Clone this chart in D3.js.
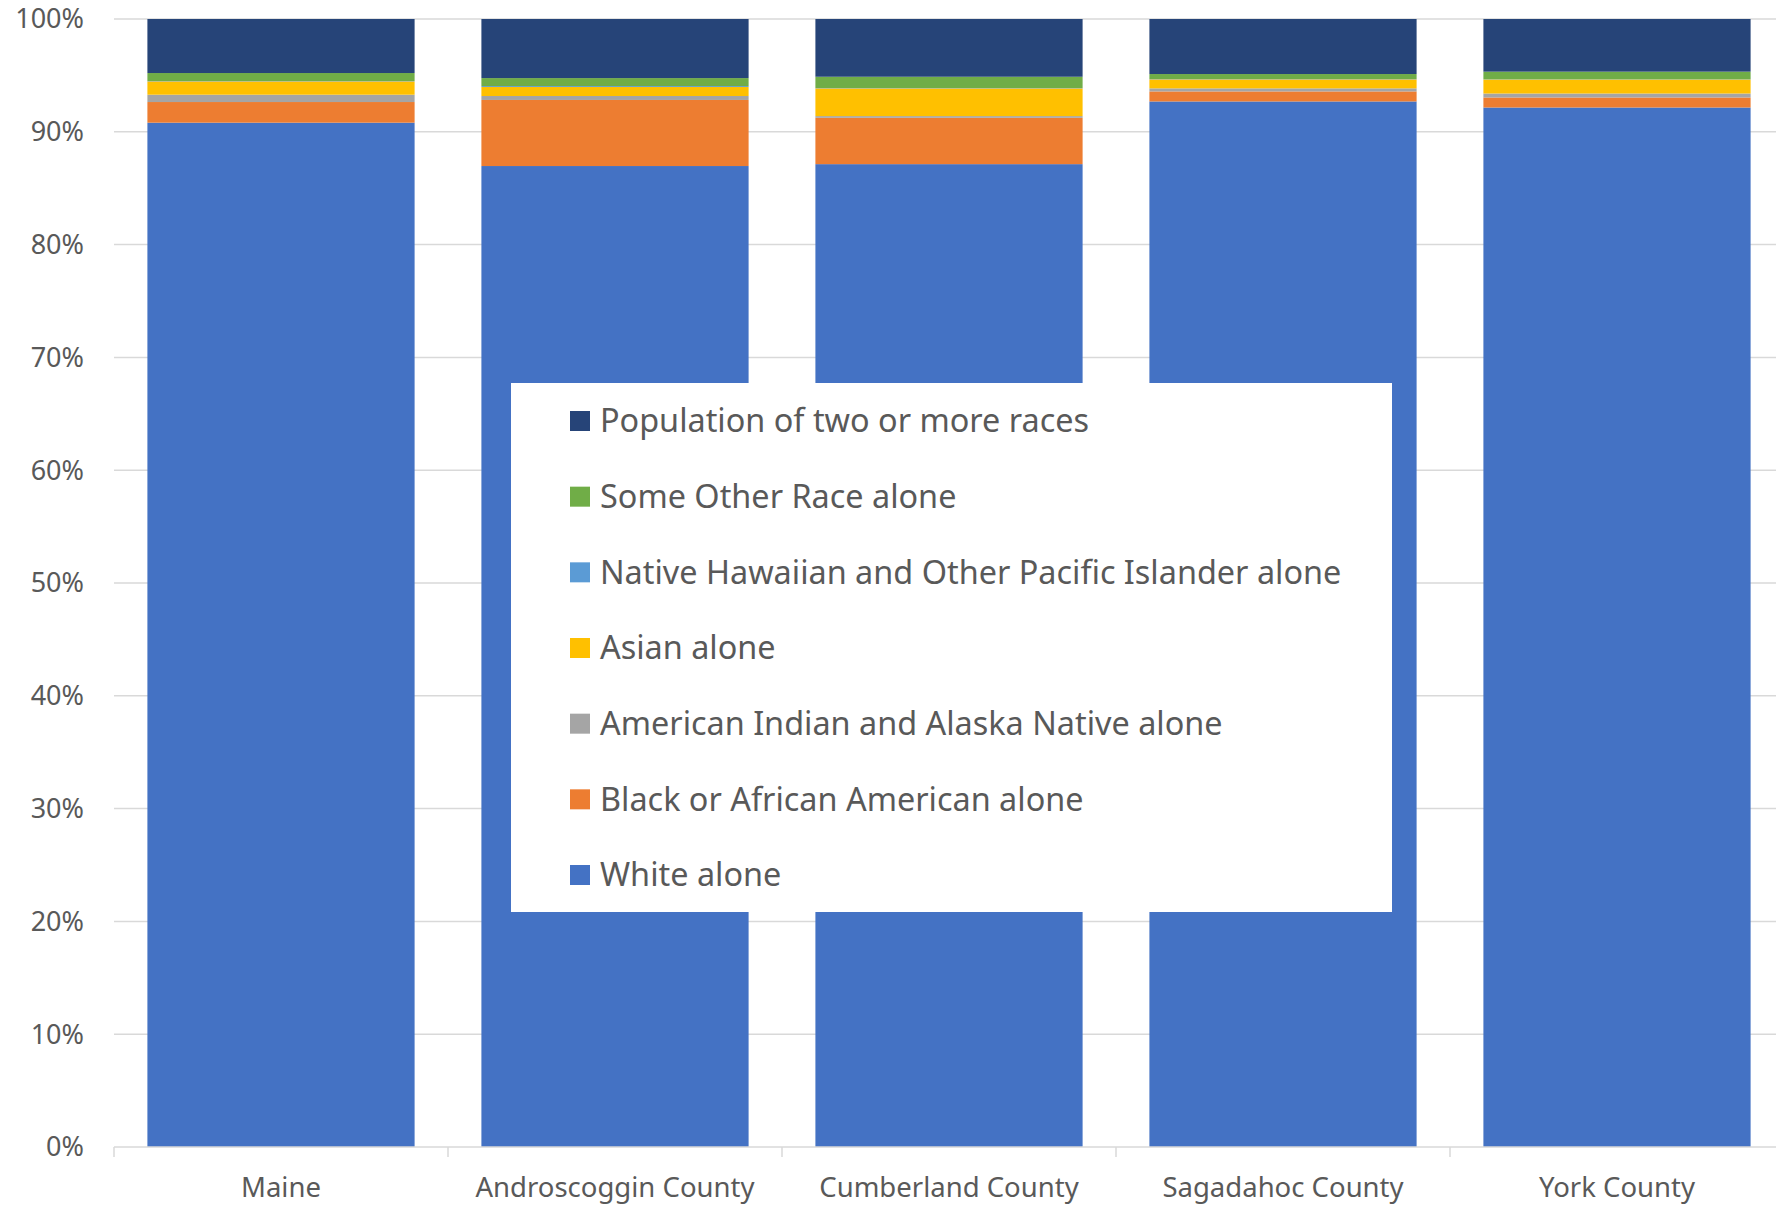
<!DOCTYPE html>
<html><head><meta charset="utf-8">
<script src="https://cdn.jsdelivr.net/npm/d3@7"></script>
<style>
html,body{margin:0;padding:0;background:#fff;}
svg{display:block;font-family:"Noto Sans","Open Sans",sans-serif;}
</style></head>
<body><svg id="chart" width="1776" height="1206"></svg>
<script>
const categories = ["Maine","Androscoggin County","Cumberland County","Sagadahoc County","York County"];
const seriesNames = ["White alone","Black or African American alone","American Indian and Alaska Native alone","Asian alone","Native Hawaiian and Other Pacific Islander alone","Some Other Race alone","Population of two or more races"];
const whiteAlone   = [90.8, 87.0, 87.15, 92.7, 92.2];
const blackAlone   = [1.83, 5.86, 4.11, 0.89, 0.89];
const aianAlone    = [0.65, 0.35, 0.15, 0.27, 0.35];
const asianAlone   = [1.18, 0.80, 2.46, 0.80, 1.24];
const nhpiAlone    = [0.03, 0.08, 0.03, 0.03, 0.02];
const otherAlone   = [0.71, 0.71, 1.00, 0.44, 0.68];
const twoOrMore    = [4.79, 5.24, 5.12, 4.88, 4.67];
const colors = ["#4472C4","#ED7D31","#A5A5A5","#FFC000","#5B9BD5","#70AD47","#264478"];
const yTicks = [0,10,20,30,40,50,60,70,80,90,100];

(function(){
const seriesValues = [whiteAlone, blackAlone, aianAlone, asianAlone, nhpiAlone, otherAlone, twoOrMore];
const rows = categories.map((c,i)=>{
  const r = {cat:c};
  let tot = 0;
  seriesValues.forEach(v=>tot+=v[i]);
  seriesNames.forEach((s,k)=>r[s]=seriesValues[k][i]/tot*100);
  return r;
});

const svg = d3.select("#chart");
const mLeft = 114, mRight = 1784, mTop = 19, mBottom = 1147;
const x = d3.scaleBand().domain(categories).range([mLeft,mRight]).paddingInner(0.2).paddingOuter(0.1);
const y = d3.scaleLinear().domain([0,100]).range([mBottom,mTop]);

svg.append("g").selectAll("line").data(yTicks.filter(d=>d>0)).join("line")
  .attr("x1",mLeft).attr("x2",1776).attr("y1",d=>y(d)).attr("y2",d=>y(d))
  .attr("stroke","#d9d9d9").attr("stroke-width",1.5);

svg.append("g").selectAll("text").data(yTicks).join("text")
  .attr("x",84).attr("y",d=>y(d)).attr("dy","0.35em").attr("text-anchor","end")
  .attr("font-size",27).attr("fill","#595959").text(d=>d+"%");

const stack = d3.stack().keys(seriesNames)(rows);
svg.append("g").selectAll("g").data(stack).join("g")
  .attr("fill",(d,i)=>colors[i])
  .selectAll("rect").data(d=>d).join("rect")
  .attr("x",d=>x(d.data.cat)).attr("width",x.bandwidth())
  .attr("y",d=>y(d[1])).attr("height",d=>y(d[0])-y(d[1]));

const xAxis = svg.append("g");
xAxis.append("line").attr("x1",mLeft).attr("x2",1776).attr("y1",mBottom).attr("y2",mBottom)
  .attr("stroke","#d9d9d9").attr("stroke-width",1.5);
const step = x.step();
xAxis.selectAll("line.tick").data(categories).join("line").attr("class","tick")
  .attr("x1",d=>x(d)+x.bandwidth()/2-step/2).attr("x2",d=>x(d)+x.bandwidth()/2-step/2)
  .attr("y1",mBottom).attr("y2",mBottom+10).attr("stroke","#d9d9d9").attr("stroke-width",1.5);
xAxis.selectAll("text").data(categories).join("text")
  .attr("x",d=>x(d)+x.bandwidth()/2).attr("y",1187).attr("dy","0.35em")
  .attr("text-anchor","middle").attr("font-size",27.5).attr("fill","#595959").text(d=>d);

const lg = svg.append("g");
lg.append("rect").attr("x",511).attr("y",383).attr("width",881).attr("height",529).attr("fill","#fff");
const legendOrder = seriesNames.map((s,i)=>({s,c:colors[i]})).reverse();
const ly = d3.scalePoint().domain(legendOrder.map(d=>d.s)).range([421,875]);
const items = lg.selectAll("g.item").data(legendOrder).join("g").attr("class","item")
  .attr("transform",d=>`translate(0,${ly(d.s)})`);
items.append("rect").attr("x",570).attr("y",-10).attr("width",20).attr("height",20).attr("fill",d=>d.c);
items.append("text").attr("x",600).attr("dy","0.35em").attr("font-size",32.4).attr("fill","#595959").text(d=>d.s);
})();
</script></body></html>
